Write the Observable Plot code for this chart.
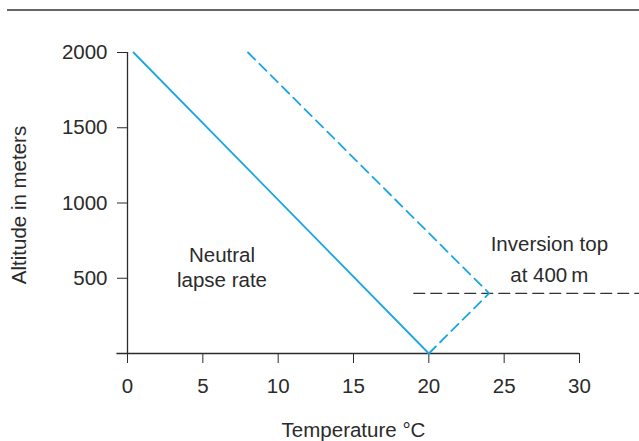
<!DOCTYPE html>
<html>
<head>
<meta charset="utf-8">
<script src="https://cdn.jsdelivr.net/npm/d3@7"></script>
<script src="https://cdn.jsdelivr.net/npm/@observablehq/plot@0.6"></script>
<style>
  html, body { margin: 0; padding: 0; background: #fff; }
  #wrap { position: relative; width: 639px; height: 441px; overflow: hidden; }
  #topline { position: absolute; left: 7px; right: 0; top: 9px; height: 0; border-top: 2px solid #666; }
  #wrap svg { font-family: "Liberation Sans", Arial, sans-serif; }
  #wrap svg text { font-size: 20.5px; }
</style>
</head>
<body>
<div id="wrap"><div id="topline"></div></div>
<script>
// Data
const neutralTemp = [0.4, 20];
const neutralAlt = [2000, 0];
const inversionTemp = [8, 24, 20];
const inversionAlt = [2000, 400, 0];
const inversionTopTemp = [19, 34];
const inversionTopAlt = [400, 400];
const xTicks = [0, 5, 10, 15, 20, 25, 30];
const yTicks = [0, 500, 1000, 1500, 2000];
const labels = [
  {t: 6.27, a: 578, text: "Neutral\nlapse rate"},
  {t: 28, a: 645, text: "Inversion top\nat 400\u2009m"}
];

const neutral = neutralTemp.map((t, i) => ({t, a: neutralAlt[i]}));
const inversion = inversionTemp.map((t, i) => ({t, a: inversionAlt[i]}));
const invTop = inversionTopTemp.map((t, i) => ({t, a: inversionTopAlt[i]}));

const blue = "#1aa6e0";
const ink = "#2b2b2b";

const chart = Plot.plot({
  width: 639,
  height: 441,
  marginLeft: 127,
  marginRight: 60,
  marginTop: 52,
  marginBottom: 88,
  style: {fontFamily: "'Liberation Sans', Arial, sans-serif", fontSize: "20px", color: ink, background: "transparent", overflow: "visible"},
  x: {domain: [0, 30], label: null},
  y: {domain: [0, 2000], label: null},
  marks: [
    Plot.axisX({ticks: xTicks, tickSize: 10, tickPadding: 15, tickFormat: d => String(d), stroke: ink, fill: ink, label: null}),
    Plot.axisY({ticks: yTicks.filter(d => d > 0), tickSize: 10, tickPadding: 10, tickFormat: d => String(d), stroke: ink, fill: ink, label: null}),
    Plot.ruleY([0], {x1: -0.7, x2: 30, stroke: ink, strokeWidth: 1.3}),
    Plot.ruleX([0], {y1: 0, y2: 2000, stroke: ink, strokeWidth: 1.3}),
    Plot.line(invTop, {x: "t", y: "a", stroke: "#333", strokeWidth: 1.3, strokeDasharray: "11,6", clip: false}),
    Plot.line(neutral, {x: "t", y: "a", stroke: blue, strokeWidth: 1.8}),
    Plot.line(inversion, {x: "t", y: "a", stroke: blue, strokeWidth: 1.8, strokeDasharray: "10,6"}),
    Plot.text(labels.slice(0, 1), {x: "t", y: "a", text: "text", lineHeight: 1.2, fill: ink}),
    Plot.text(labels.slice(1), {x: "t", y: "a", text: "text", lineHeight: 1.5, fill: ink}),
    Plot.text(["Temperature °C"], {frameAnchor: "bottom", dy: 83, fill: ink}),
    Plot.text(["Altitude in meters"], {frameAnchor: "left", dx: -108, dy: 2, rotate: -90, textAnchor: "middle", fill: ink})
  ]
});
document.getElementById("wrap").appendChild(chart);
</script>
</body>
</html>
